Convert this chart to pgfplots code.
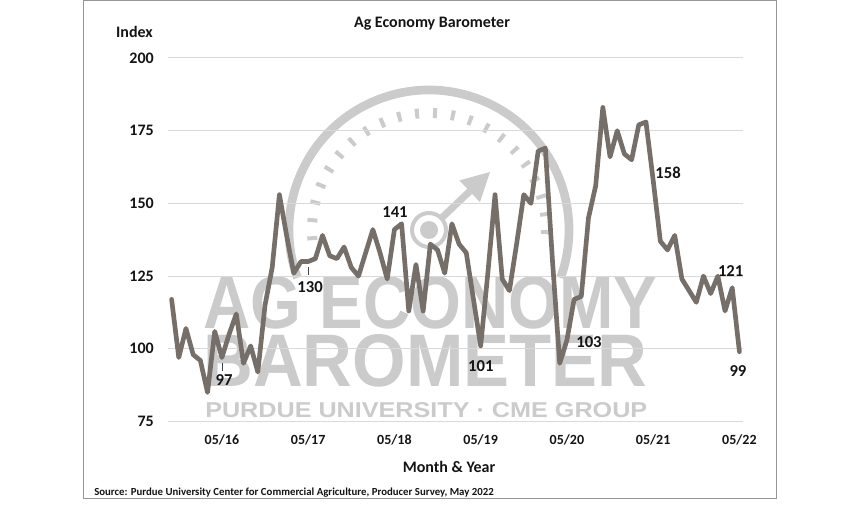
\documentclass[border=0pt]{standalone}
\usepackage{fontspec}
\setmainfont{Carlito}
\newfontfamily\wmfont{Liberation Sans}
\usepackage{pgfplots}
\usepackage{pgfplotstable}
\pgfplotsset{compat=1.18}
\definecolor{linec}{RGB}{118,111,105}
\definecolor{gridc}{RGB}{217,217,217}
\definecolor{wm}{RGB}{203,203,203}
\definecolor{txt}{RGB}{20,20,20}
\definecolor{frame}{RGB}{150,150,150}

\pgfplotstableread{
i v
0 117
1 97
2 107
3 98
4 96
5 85
6 106
7 97
8 105
9 112
10 95
11 101
12 92
13 115
14 128
15 153
16 139
17 126
18 130
19 130
20 131
21 139
22 132
23 131
24 135
25 128
26 125
27 133
28 141
29 133
30 124
31 141
32 143
33 113
34 129
35 113
36 136
37 134
38 126
39 143
40 136
41 133
42 117
43 101
44 126
45 153
46 124
47 120
48 136
49 153
50 150
51 168
52 169
53 130
54 95
55 103
56 117
57 118
58 145
59 156
60 183
61 166
62 175
63 167
64 165
65 177
66 178
67 158
68 137
69 134
70 139
71 124
72 120
73 116
74 125
75 119
76 125
77 113
78 121
79 99
}\datatable

\newcommand{\lbl}{\fontsize{12.5}{15}\selectfont\bfseries}

\begin{document}
\begin{tikzpicture}[x=0.75pt,y=0.75pt]
\path[use as bounding box] (0,0) rectangle (864,504);
\draw[frame, line width=0.75pt] (83.5,503) rectangle (776.5,5.5);

% watermark
\begin{scope}[color=wm]
\draw[line width=6.5pt] ([shift={(200:140)}]429,274) arc[start angle=200,end angle=-20,radius=140];
\draw[line width=7.5pt, dash pattern=on 3pt off 10.5pt] ([shift={(185:117)}]429,274) arc[start angle=185,end angle=-5,radius=117];
\fill (429,274) circle[radius=9];
\draw[line width=3pt] (429,274) circle[radius=17];
\draw[line width=5.25pt] (441.3,285.7) -- (469.7,312.7);
\fill (490,332) -- (459.3,323.6) -- (480.0,301.8) -- cycle;
\end{scope}
\node[anchor=south west, inner sep=0pt, text=wm] at (203,175) {\resizebox{340.5pt}{39pt}{\wmfont\bfseries AG ECONOMY}};
\node[anchor=south west, inner sep=0pt, text=wm] at (203,117) {\resizebox{333pt}{39pt}{\wmfont\bfseries BAROMETER}};
\node[anchor=south west, inner sep=0pt, text=wm] at (205,86) {\resizebox{331.5pt}{11.25pt}{\wmfont\bfseries PURDUE UNIVERSITY \textperiodcentered{} CME GROUP}};

% texts
\node[anchor=base, inner sep=0pt, text=txt, font=\fontsize{12}{14}\selectfont\bfseries] at (432,476) {Ag Economy Barometer};
\node[anchor=base, inner sep=0pt, text=txt, font=\fontsize{12}{14}\selectfont\bfseries] at (134.5,466) {Index};
\node[anchor=base, inner sep=0pt, text=txt, font=\fontsize{12}{14}\selectfont\bfseries] at (449,32) {Month \& Year};
\node[anchor=base west, inner sep=0pt, text=txt, font=\fontsize{8.1}{10}\selectfont\bfseries] at (94,9) {Source: Purdue University Center for Commercial Agriculture, Producer Survey, May 2022};

\begin{axis}[
 at={(126pt,61.875pt)}, anchor=south west,
 scale only axis, width=431.25pt, height=272.625pt,
 xmin=-0.5, xmax=79.5, ymin=75, ymax=200,
 ytick={75,100,...,200},
 xtick={7,19,31,43,55,67,79},
 xticklabels={05/16,05/17,05/18,05/19,05/20,05/21,05/22},
 ymajorgrids, grid style={gridc, line width=0.75pt},
 axis line style={draw=none}, major tick length=0pt,
 /pgf/number format/assume math mode=true,
 yticklabel style={font=\fontsize{12}{14}\selectfont\bfseries, text=txt, anchor=east, inner sep=0pt, xshift=-10.5pt},
 xticklabel style={font=\fontsize{10.5}{12}\selectfont\bfseries, text=txt, anchor=base, inner sep=0pt, yshift=-17.25pt},
 clip=false,
]
\addplot[linec, line width=3.5pt, line join=round, line cap=round, mark=none] table[x=i,y=v] {\datatable};
\draw[txt!80, line width=0.6pt] (axis cs:7,95) -- (axis cs:7,92.5);
\draw[txt!80, line width=0.6pt] (axis cs:19,128) -- (axis cs:19,125.3);
\node[font=\lbl, text=txt] at (axis cs:7.3,89.3) {97};
\node[font=\lbl, text=txt] at (axis cs:19.26,121.25) {130};
\node[font=\lbl, text=txt] at (axis cs:31.08,147.1) {141};
\node[font=\lbl, text=txt] at (axis cs:43.02,94.2) {101};
\node[font=\lbl, text=txt] at (axis cs:58.07,102.4) {103};
\node[font=\lbl, text=txt] at (axis cs:69.07,160.5) {158};
\node[font=\lbl, text=txt] at (axis cs:77.79,126.9) {121};
\node[font=\lbl, text=txt] at (axis cs:78.8,92.4) {99};
\end{axis}
\end{tikzpicture}
\end{document}
